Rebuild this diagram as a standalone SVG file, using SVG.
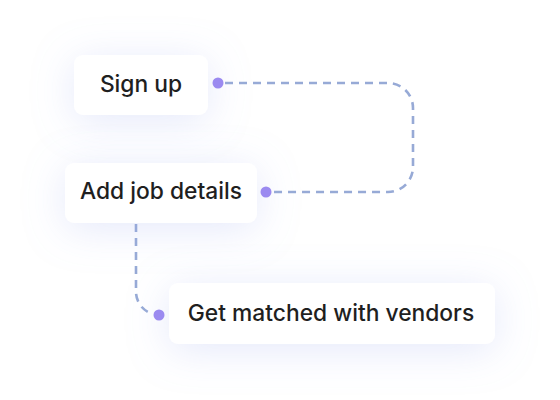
<svg xmlns="http://www.w3.org/2000/svg" width="560" height="400" viewBox="0 0 560 400">
<defs>
<filter id="glow" x="-60%" y="-100%" width="220%" height="300%">
<feDropShadow dx="0" dy="6" stdDeviation="20" flood-color="#9aa8ee" flood-opacity="0.26"/>
</filter>
<style>
.box{fill:#ffffff;filter:url(#glow)}
.lbl{font-family:Inter,"Liberation Sans",sans-serif;font-size:22.8px;font-weight:500;fill:#1f1f1f;text-anchor:middle}
.dash{fill:none;stroke:#97aad6;stroke-width:2.6;stroke-dasharray:8 6;stroke-linecap:butt}
.dot{fill:#9b8af0}
</style>
</defs>
<rect width="560" height="400" fill="#ffffff"/>
<g id="connectors">
<path class="dash" d="M225 83 H388 A25 25 0 0 1 413 108 V167 A25 25 0 0 1 388 192 H273"/>
<path class="dash" d="M136 224 V292 A23 23 0 0 0 153 314"/>
</g>
<g id="node-signup">
<rect class="box" x="74" y="55" width="134" height="60" rx="9"/>
<text class="lbl" x="141" y="92">Sign up</text>
<circle class="dot" cx="218" cy="83" r="5.5"/>
</g>
<g id="node-addjob">
<rect class="box" x="65" y="163" width="192" height="60" rx="9"/>
<text class="lbl" x="161" y="199">Add job details</text>
<circle class="dot" cx="266" cy="192" r="5.5"/>
</g>
<g id="node-matched">
<rect class="box" x="169" y="283" width="326" height="61" rx="9"/>
<text class="lbl" x="331" y="321">Get matched with vendors</text>
<circle class="dot" cx="159" cy="315" r="5.5"/>
</g>
</svg>
